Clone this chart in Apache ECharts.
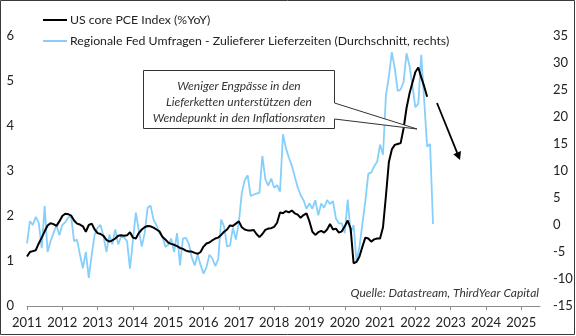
<!DOCTYPE html>
<html>
<head>
<meta charset="utf-8">
<script src="https://cdn.jsdelivr.net/npm/echarts@6/dist/echarts.min.js"></script>
<style>
html,body{margin:0;padding:0;background:#fff;}
#chart{width:576px;height:336px;}
</style>
</head>
<body>
<div id="chart"></div>
<script>
// Monthly data starting January 2011
const startYear = 2011;
const seriesNames = ['US core PCE Index (%YoY)', 'Regionale Fed Umfragen - Zulieferer Lieferzeiten (Durchschnitt, rechts)'];
const corePce = [
  1.10,1.20,1.22,1.24,1.39,1.52,1.66,1.79,1.84,1.82,1.78,1.88,
  2.00,2.05,2.04,2.01,1.90,1.83,1.81,1.77,1.65,1.80,1.83,1.70,
  1.62,1.60,1.56,1.47,1.43,1.46,1.50,1.56,1.57,1.56,1.57,1.64,
  1.52,1.50,1.62,1.70,1.75,1.78,1.77,1.74,1.70,1.66,1.54,1.48,
  1.41,1.38,1.36,1.33,1.29,1.27,1.23,1.21,1.21,1.18,1.16,1.20,
  1.32,1.39,1.41,1.46,1.50,1.52,1.58,1.65,1.70,1.79,1.78,1.83,
  1.88,1.75,1.70,1.68,1.68,1.69,1.60,1.53,1.60,1.69,1.72,1.73,
  1.76,1.85,2.08,2.06,2.11,2.08,2.12,2.06,2.03,1.96,2.02,2.06,
  1.88,1.65,1.58,1.64,1.67,1.63,1.70,1.82,1.70,1.72,1.63,1.66,
  1.77,1.90,1.72,0.95,0.98,1.10,1.32,1.52,1.50,1.43,1.48,1.50,
  1.50,1.75,2.45,3.20,3.48,3.58,3.60,3.62,3.95,4.40,4.72,4.96,
  5.20,5.30,5.08,4.88,4.65
];
const supplierDelivery = [
  -3.4,0.7,0.0,1.5,0.4,-4.3,3.5,-5.0,-3.0,-1.5,0.0,-1.9,
  0.0,0.5,1.4,1.6,-3.0,-2.7,-5.5,-8.0,-5.0,-9.8,-5.5,-1.8,
  -0.5,0.0,-2.1,-5.0,-1.8,-3.6,-0.8,-3.6,-2.1,-2.3,-3.0,-8.1,
  -2.8,2.3,-1.0,-4.0,-1.5,3.2,3.6,1.0,0.0,-1.5,-2.1,-4.0,
  -3.7,-2.5,-5.0,-1.5,-7.5,-2.5,-2.4,-3.5,-6.0,-7.5,-5.5,-7.4,
  -9.0,-7.8,-5.5,-6.2,-7.6,-6.3,1.0,-0.3,-4.0,-3.8,-0.5,-2.7,
  0.5,5.9,8.3,9.2,5.4,5.6,5.8,6.0,12.8,8.5,7.3,8.6,
  6.9,7.4,6.2,16.8,14.2,12.5,11.0,9.0,7.0,5.5,4.6,3.0,
  4.0,3.0,4.6,1.8,4.0,3.2,4.6,3.9,4.4,1.2,0.3,0.3,
  -1.5,4.7,-1.5,0.0,-6.8,-4.0,0.2,4.4,9.5,9.7,10.9,11.7,
  14.9,13.0,24.0,27.5,32.0,29.0,24.8,25.1,26.5,31.8,29.5,25.8,
  21.8,22.5,31.5,23.0,14.5,15.0,0.2
];
const yearTicks = [2011,2012,2013,2014,2015,2016,2017,2018,2019,2020,2021,2022,2023,2024,2025];
const annotationLines = ['Weniger Engpässe in den', 'Lieferketten unterstützen den', 'Wendepunkt in den Inflationsraten'];
const sourceText = 'Quelle: Datastream, ThirdYear Capital';

const toXY = arr => arr.map((v, i) => [startYear + i / 12, v]);

const FONT = 'Lato, "Open Sans", sans-serif';
const chart = echarts.init(document.getElementById('chart'), null, {renderer: 'canvas'});
chart.setOption({
  animation: false,
  backgroundColor: '#fff',
  grid: {left: 27, right: 36, top: 36, bottom: 30, containLabel: false},
  legend: {
    orient: 'vertical', left: 38, top: 9, itemGap: 9,
    itemWidth: 24, itemHeight: 2, icon: 'rect',
    textStyle: {fontFamily: FONT, fontSize: 12.3, color: '#222', padding: [0,0,0,-2]},
    data: seriesNames
  },
  xAxis: {
    type: 'value', min: yearTicks[0], max: 2025.53, interval: 1,
    axisLine: {show: true, lineStyle: {color: '#8c8c8c', width: 1}},
    axisTick: {show: true, length: 4, inside: false, lineStyle: {color: '#8c8c8c'}},
    splitLine: {show: false},
    axisLabel: {showMaxLabel: false, fontFamily: FONT, fontSize: 13, color: '#222', margin: 10,
      formatter: v => (yearTicks.indexOf(Math.round(v)) >= 0 && Math.abs(v - Math.round(v)) < 1e-6) ? String(Math.round(v)) : ''}
  },
  yAxis: [
    {type: 'value', min: 0, max: 6, interval: 1, position: 'left',
      axisLine: {show: false}, axisTick: {show: false}, splitLine: {show: false},
      axisLabel: {fontFamily: FONT, fontSize: 13, color: '#222', margin: 13}},
    {type: 'value', min: -15, max: 35, interval: 5, position: 'right',
      axisLine: {show: false}, axisTick: {show: false}, splitLine: {show: false},
      axisLabel: {fontFamily: FONT, fontSize: 13, color: '#222', margin: 13, align: 'left'}}
  ],
  series: [
    {name: seriesNames[0], type: 'line', yAxisIndex: 0, data: toXY(corePce), showSymbol: false, symbol: 'none',
      lineStyle: {color: '#000', width: 2}, itemStyle: {color: '#000'}, z: 3},
    {name: seriesNames[1], type: 'line', yAxisIndex: 1, data: toXY(supplierDelivery), showSymbol: false, symbol: 'none',
      lineStyle: {color: '#86cffb', width: 1.8}, itemStyle: {color: '#86cffb'}, z: 2}
  ],
  graphic: [
    {type: 'rect', shape: {x: 0.5, y: 0.5, width: 574, height: 334}, style: {fill: 'none', stroke: '#3a3a3a', lineWidth: 1}, z: 100},
    {type: 'polygon', shape: {points: [[143.5,70.5],[334.5,70.5],[334.5,103],[417,129],[334.5,119],[334.5,128.5],[143.5,128.5]]},
      style: {fill: '#fff', stroke: '#333', lineWidth: 1}, z: 50},
    {type: 'text', x: 239, y: 86, style: {text: annotationLines[0], fontFamily: FONT, fontStyle: 'italic', fontSize: 12, fill: '#333', align: 'center', verticalAlign: 'middle'}, z: 51},
    {type: 'text', x: 239, y: 102, style: {text: annotationLines[1], fontFamily: FONT, fontStyle: 'italic', fontSize: 12, fill: '#333', align: 'center', verticalAlign: 'middle'}, z: 51},
    {type: 'text', x: 239, y: 118, style: {text: annotationLines[2], fontFamily: FONT, fontStyle: 'italic', fontSize: 12, fill: '#333', align: 'center', verticalAlign: 'middle'}, z: 51},
    {type: 'line', shape: {x1: 437, y1: 103, x2: 457.2, y2: 152.8}, style: {stroke: '#000', lineWidth: 1.8}, z: 50},
    {type: 'polygon', shape: {points: [[460,160],[461,151],[453.3,154.2]]}, style: {fill: '#000'}, z: 50},
    {type: 'text', x: 539, y: 293, style: {text: sourceText, fontFamily: FONT, fontStyle: 'italic', fontSize: 12, fill: '#333', align: 'right', verticalAlign: 'middle'}, z: 51}
  ]
});
</script>
</body>
</html>
